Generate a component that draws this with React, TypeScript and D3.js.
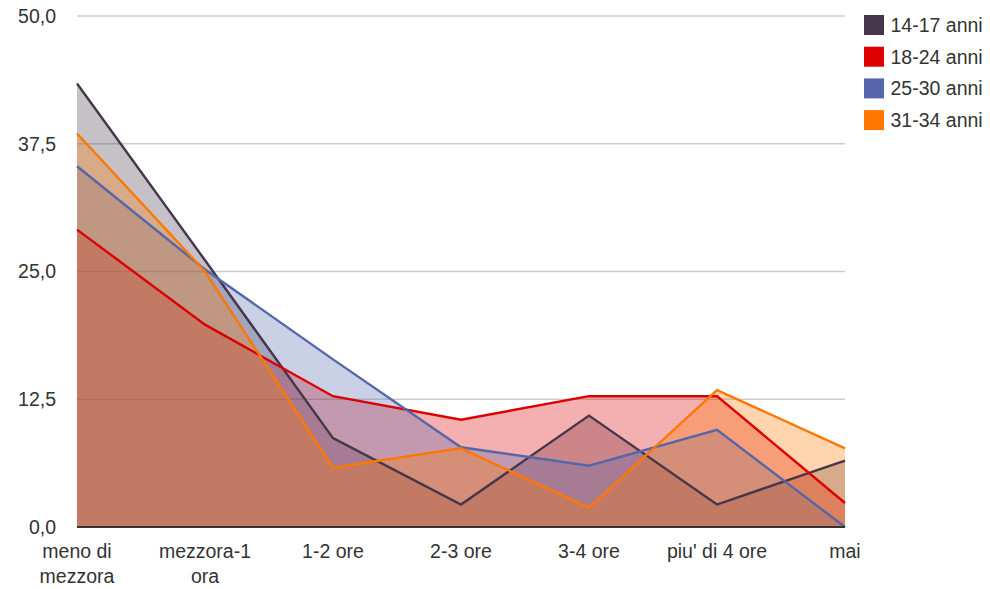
import React from 'react';
import * as d3 from 'd3';

const categories = [
    ['meno di', 'mezzora'],
    ['mezzora-1', 'ora'],
    ['1-2 ore'],
    ['2-3 ore'],
    ['3-4 ore'],
    ["piu' di 4 ore"],
    ['mai']
];
const seriesNames = ['14-17 anni', '18-24 anni', '25-30 anni', '31-34 anni'];
const colors = ['#46364a', '#dd0000', '#5566aa', '#ff7700'];
const age1417 = [43.4, 26.1, 8.7, 2.2, 10.9, 2.2, 6.5];
const age1824 = [29.1, 19.8, 12.8, 10.5, 12.8, 12.8, 2.35];
const age2530 = [35.3, 25.2, 16.4, 7.8, 6.0, 9.5, 0];
const age3134 = [38.5, 25.0, 5.8, 7.7, 1.9, 13.4, 7.7];
const yTicks = [0, 12.5, 25, 37.5, 50];

const allSeries = [age1417, age1824, age2530, age3134];

const width = 990;
const height = 589;
const margin = { top: 16, right: 145, bottom: 62, left: 77 };

export default function App() {
    const keys = categories.map(c => c.join(' '));
    const x = d3.scalePoint<string>()
        .domain(keys)
        .range([margin.left, width - margin.right]);
    const y = d3.scaleLinear()
        .domain([0, 50])
        .range([height - margin.bottom, margin.top]);

    const area = d3.area<number>()
        .x((d, i) => x(keys[i]) as number)
        .y0(y(0))
        .y1(d => y(d));
    const line = d3.line<number>()
        .x((d, i) => x(keys[i]) as number)
        .y(d => y(d));

    const fmt = (v: number) => v.toFixed(1).replace('.', ',');
    const font = '"Liberation Sans", Arial, sans-serif';

    return (
        <svg width={width} height={height} style={{ position: 'absolute', left: 0, top: 0 }} fontFamily={font}>
            <rect width={width} height={height} fill="#fff" />
            {yTicks.map(t => (
                <g key={t}>
                    {t > 0 && <line x1={margin.left} x2={width - margin.right} y1={y(t)} y2={y(t)} stroke="#cccccc" strokeWidth={1.5} />}
                    <text x={56} y={y(t) + 6.8} textAnchor="end" fontSize={19.5} fill="#333">{fmt(t)}</text>
                </g>
            ))}
            {allSeries.map((s, i) => (
                <path key={'a' + i} d={area(s) as string} fill={colors[i]} fillOpacity={0.31} stroke="none" />
            ))}
            {allSeries.map((s, i) => (
                <path key={'l' + i} d={line(s) as string} fill="none" stroke={colors[i]} strokeWidth={2.4} strokeLinejoin="miter" />
            ))}
            <line x1={margin.left} x2={width - margin.right} y1={y(0)} y2={y(0)} stroke="#333" strokeWidth={2} />
            {categories.map((c, i) => (
                <text key={keys[i]} x={x(keys[i])} y={557.5} textAnchor="middle" fontSize={19.5} fill="#333">
                    {c.map((part, j) => (
                        <tspan key={j} x={x(keys[i])} dy={j === 0 ? 0 : 25}>{part}</tspan>
                    ))}
                </text>
            ))}
            {seriesNames.map((name, i) => (
                <g key={name} transform={`translate(864, ${15 + i * 31.7})`}>
                    <rect width={20} height={20} fill={colors[i]} />
                    <text x={26.5} y={16.8} fontSize={19.5} fill="#333">{name}</text>
                </g>
            ))}
        </svg>
    );
}
